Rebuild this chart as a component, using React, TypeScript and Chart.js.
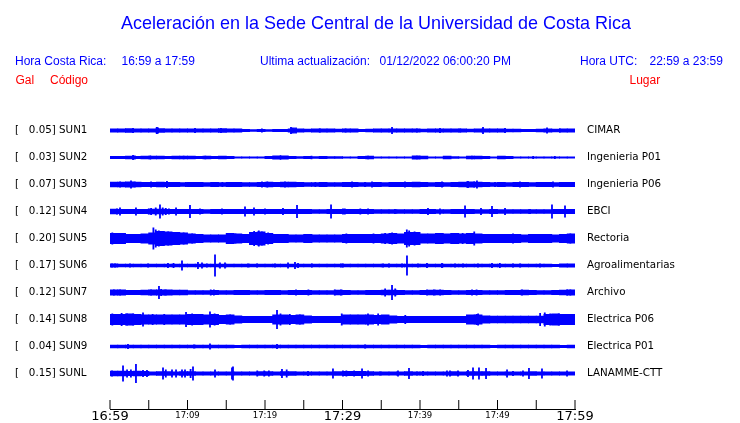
import React, { useEffect, useRef } from 'react';
import { Chart, registerables } from 'chart.js';

Chart.register(...registerables);

// ---------- data ----------
const stationCodes = ['SUN1', 'SUN2', 'SUN3', 'SUN4', 'SUN5', 'SUN6', 'SUN7', 'SUN8', 'SUN9', 'SUNL'];
const stationGal = ['0.05', '0.03', '0.07', '0.12', '0.20', '0.17', '0.12', '0.14', '0.04', '0.15'];
const stationPlaces = ['CIMAR', 'Ingenieria P01', 'Ingenieria P06', 'EBCI', 'Rectoria', 'Agroalimentarias', 'Archivo', 'Electrica P06', 'Electrica P01', 'LANAMME-CTT'];

// minutes after 16:59 where the time axis has ticks, and their labels
const timeTicks = [0, 5, 10, 15, 20, 25, 30, 35, 40, 45, 50, 55, 60];
const timeLabels = ['16:59', '', '17:09', '', '17:19', '', '17:29', '', '17:39', '', '17:49', '', '17:59'];
const majorTimeTicks = [0, 30, 60];

// per-minute background amplitude of each trace (1 unit = 1/27 of trace spacing)
const sun1Core = [1.5, 1.5, 1.7, 1.5, 1.5, 1.5, 1.8, 1.5, 1.5, 1.5, 1.5, 1.5, 1.5, 1.5, 1.7, 1.5, 1.5, 1.0, 0.8, 1.0, 0.8, 1.0, 1.0, 1.5, 1.5, 1.3, 1.5, 1.5, 1.5, 1.3, 1.5, 1.5, 1.0, 1.2, 1.5, 1.5, 1.5, 1.5, 1.5, 1.5, 1.3, 1.5, 1.5, 1.5, 1.5, 1.5, 1.3, 1.5, 1.5, 1.5, 1.5, 1.3, 1.3, 1.0, 1.0, 1.2, 1.5, 1.3, 1.5, 1.5];
const sun2Core = [1.0, 1.0, 1.2, 1.0, 1.2, 1.2, 1.2, 1.0, 1.2, 1.2, 1.2, 1.0, 1.2, 1.0, 1.2, 1.0, 0.6, 0.5, 0.5, 0.6, 0.9, 1.5, 1.5, 0.9, 0.8, 0.9, 0.7, 0.9, 0.8, 0.7, 0.5, 0.6, 0.9, 1.3, 0.6, 0.6, 0.5, 0.6, 0.6, 1.4, 1.2, 0.5, 0.6, 1.2, 0.8, 0.5, 1.3, 1.3, 0.9, 0.5, 1.2, 1.0, 0.5, 0.5, 0.6, 0.5, 0.6, 0.5, 0.5, 0.5];
const sun3Core = [2.2, 2.2, 2.4, 2.2, 2.0, 2.0, 2.2, 2.0, 2.0, 1.8, 2.0, 2.0, 1.8, 2.0, 1.8, 2.0, 2.0, 1.8, 1.8, 2.0, 2.2, 2.0, 2.2, 2.2, 2.0, 1.8, 1.8, 2.0, 1.8, 1.8, 2.0, 2.0, 1.8, 1.8, 2.0, 1.8, 2.0, 2.0, 2.0, 2.2, 2.0, 1.8, 2.0, 1.8, 2.0, 2.2, 2.4, 2.2, 2.0, 1.8, 2.0, 1.8, 2.0, 2.0, 1.8, 2.0, 2.0, 1.8, 2.0, 2.0];
const sun4Core = [2.2, 2.0, 2.0, 2.0, 2.0, 2.2, 2.2, 2.0, 2.0, 2.0, 2.0, 2.0, 1.8, 2.0, 2.0, 2.0, 2.0, 2.0, 2.0, 2.0, 2.0, 2.0, 2.0, 2.0, 2.0, 2.0, 1.8, 1.8, 2.0, 2.0, 2.0, 2.0, 2.0, 2.0, 1.8, 1.8, 1.8, 1.8, 1.8, 1.8, 2.0, 2.0, 1.8, 1.8, 2.0, 2.0, 2.0, 1.8, 1.8, 2.0, 1.8, 1.8, 1.8, 1.8, 1.8, 1.8, 1.8, 2.0, 2.0, 2.0];
const sun5Core = [5, 5, 4, 4, 4.5, 5.5, 7, 6.5, 6, 5.5, 4.5, 4, 3.5, 3.5, 3.5, 5, 4.5, 4, 6, 6.5, 5, 4, 4, 3.5, 3.5, 4, 3.5, 3.5, 3.5, 3.5, 4, 4, 4, 4, 4, 4.5, 5, 4.5, 6, 6, 4.5, 4.5, 5, 4.5, 5, 4.5, 5, 4.5, 4, 4, 4, 4, 4, 3.5, 4, 4, 4, 3.5, 4, 4.5];
const sun6Core = [1.5, 1.2, 1.2, 1.2, 1.2, 1.2, 1.2, 1.2, 1.2, 1.2, 1.2, 1.2, 1.2, 1.2, 1.2, 1.2, 1.2, 1.2, 1.2, 1.2, 1.2, 1.2, 1.2, 1.2, 1.2, 1.2, 1.2, 1.2, 1.2, 1.2, 1.2, 1.2, 1.2, 1.2, 1.2, 1.2, 1.2, 1.2, 1.2, 1.2, 1.2, 1.2, 1.2, 1.2, 1.2, 1.2, 1.2, 1.2, 1.2, 1.2, 1.2, 1.2, 1.2, 1.2, 1.2, 1.2, 1.2, 1.0, 1.5, 1.5];
const sun7Core = [2.5, 2.5, 2.0, 2.0, 2.2, 2.5, 2.5, 2.5, 2.2, 2.2, 1.8, 1.8, 1.8, 2.0, 1.8, 1.8, 2.0, 2.0, 1.8, 1.8, 2.0, 2.0, 1.8, 2.0, 2.0, 2.0, 1.8, 1.8, 1.8, 2.2, 2.0, 1.8, 1.8, 2.0, 2.0, 2.2, 2.2, 2.0, 1.8, 1.8, 2.0, 2.2, 2.2, 2.0, 1.8, 1.8, 2.0, 2.0, 1.8, 1.8, 1.8, 2.0, 2.0, 2.2, 2.0, 1.8, 1.8, 2.0, 2.2, 2.5];
const sun8Core = [5, 5, 5.5, 5, 4.5, 4.5, 4.5, 4.5, 4.5, 4.5, 5, 5, 4.5, 5, 4, 4.5, 3.5, 3, 3, 3, 3, 4.5, 4.5, 4, 4.5, 3.5, 3, 3, 3, 3, 4.5, 4.5, 4.5, 4.5, 4, 4.5, 3.5, 3, 3, 3, 3, 3, 3, 3, 3, 3, 4.5, 4.5, 3.5, 3.2, 3.2, 3.2, 3.2, 3.2, 3.2, 3.2, 5, 5.5, 5, 5];
const sun9Core = [1.2, 1.2, 1.2, 1.2, 1.2, 1.2, 1.2, 1.2, 1.2, 1.2, 1.2, 1.2, 1.2, 1.2, 1.2, 1.2, 1.0, 1.2, 1.2, 1.2, 1.2, 1.2, 1.2, 1.2, 1.2, 1.2, 1.2, 1.2, 1.2, 1.2, 1.2, 1.2, 1.2, 1.2, 1.2, 1.2, 1.2, 1.2, 1.2, 1.2, 1.0, 1.2, 1.2, 1.2, 1.2, 1.2, 1.2, 1.2, 1.2, 1.0, 1.2, 1.2, 1.2, 1.2, 1.2, 1.2, 1.2, 1.2, 1.0, 1.2];
const sunLCore = [2.2, 2.2, 2.0, 2.2, 2.0, 1.6, 1.8, 1.8, 1.6, 1.8, 1.8, 1.6, 1.6, 1.6, 1.6, 1.6, 1.6, 1.6, 1.6, 1.8, 1.8, 1.6, 1.8, 1.8, 1.6, 1.6, 1.6, 1.6, 1.6, 1.8, 2.0, 2.0, 2.0, 1.8, 1.6, 1.6, 1.6, 1.6, 1.8, 1.6, 1.6, 1.6, 1.6, 1.6, 1.8, 1.6, 1.8, 1.8, 1.8, 1.6, 1.6, 1.6, 1.6, 1.6, 1.8, 1.6, 1.6, 1.6, 1.6, 1.6];

// peaks: [minute after 16:59, amplitude]
const sun1Spikes = [[2.97, 2.5], [6.0, 3], [6.06, 3.5], [6.2, 3], [10.97, 2.5], [14.32, 2.5], [19.6, 2], [23.35, 3.5], [23.5, 3], [23.74, 3], [24.0, 3], [27.1, 2], [30.4, 2], [36.39, 3.5], [39.6, 2], [42.58, 2.5], [45.2, 2], [48.13, 3.5], [50.97, 2.5], [56.39, 3], [58.06, 2]];
const sun2Spikes = [[2.97, 2.5], [3.2, 2], [5.2, 2], [9.5, 1.8], [12.3, 1.8], [22.0, 2], [26.0, 1.8], [33.3, 1.8], [39.6, 1.8], [46.7, 1.8], [54.6, 1.6], [57.4, 1.6]];
const sun3Spikes = [[1.3, 3], [2.71, 4], [3.2, 3], [5.3, 3], [7.35, 3.5], [9.8, 2.5], [11.5, 2.5], [14.5, 2.5], [19.61, 3], [20.3, 3], [22.19, 2.5], [22.58, 3], [23.1, 2.5], [26.5, 2.5], [31.23, 3], [32.9, 2.5], [33.81, 3], [37.8, 2.5], [38.06, 3], [38.5, 2.5], [42.84, 3], [44.5, 2.5], [46.19, 3.5], [47.0, 3], [47.35, 4], [49.68, 2.5], [52.9, 3], [57.16, 3], [58.7, 2.5]];
const sun4Spikes = [[0.9, 3], [1.29, 4], [3.35, 4], [5.0, 3], [5.3, 3.5], [5.9, 4], [6.45, 7], [6.8, 4], [7.2, 3.5], [7.6, 3], [8.52, 4], [10.32, 6.5], [11.61, 3], [14.45, 3], [17.42, 5], [18.58, 4], [20.0, 3], [22.32, 3.5], [24.13, 6.5], [28.52, 7], [30.06, 3], [30.3, 3], [32.3, 3], [33.3, 3], [36.77, 2.5], [41.03, 3.5], [42.58, 3], [45.81, 6], [47.87, 3.5], [49.29, 5.5], [50.97, 3.5], [54.19, 2.5], [57.03, 7], [58.71, 6], [59.61, 2.5]];
const sun5Spikes = [[0.3, 6], [1.0, 5.5], [5.6, 11], [5.9, 9], [6.3, 8], [6.9, 7.5], [7.5, 7], [8.4, 6.5], [9.5, 6], [10.6, 5], [15.6, 5.5], [16.2, 5], [18.6, 7.5], [19.2, 8], [19.6, 7], [20.4, 6], [26.0, 4.5], [30.5, 5], [34.0, 5], [35.5, 5.5], [36.4, 6], [38.3, 9], [38.6, 8], [39.3, 7], [42.6, 5.5], [44.0, 5], [45.5, 5.5], [47.0, 7], [52.0, 5], [55.5, 4.5], [59.4, 5]];
const sun6Spikes = [[0.26, 2], [0.65, 2], [2.58, 2], [4.9, 2], [7.48, 2.5], [8.2, 2.5], [9.29, 5], [11.35, 3.5], [11.87, 3], [12.5, 2], [13.55, 11], [14.19, 3], [14.84, 3], [17.81, 2], [18.97, 2], [21.29, 2], [22.97, 3], [23.87, 3.5], [24.26, 2.5], [26.06, 2], [29.8, 2], [30.06, 2], [35.23, 2], [36.0, 2], [37.68, 2], [38.32, 10], [39.74, 2], [40.9, 2.5], [42.84, 2.5], [44.52, 2], [45.55, 2], [47.48, 2], [49.29, 2.5], [50.3, 2.5], [52.0, 2], [52.9, 2], [55.48, 2]];
const sun7Spikes = [[0.5, 3], [1.3, 3], [2.3, 2.5], [5.3, 3], [6.32, 6.5], [6.6, 3.5], [7.2, 3], [8.5, 2.5], [9.5, 2.5], [13.0, 3], [13.4, 3], [16.3, 2.5], [17.5, 2.5], [20.6, 2.5], [21.8, 2.5], [24.0, 3], [25.6, 3], [29.0, 3], [29.8, 3], [35.5, 4], [36.39, 7.5], [36.8, 4], [40.9, 3], [41.8, 3], [42.6, 3], [46.71, 3], [47.3, 3], [53.16, 3], [58.97, 3], [59.4, 3]];
const sun8Spikes = [[0.3, 6], [1.5, 6.5], [2.2, 6], [3.0, 6], [4.26, 7], [5.5, 5.5], [7.0, 5.5], [9.81, 7.5], [10.6, 6], [11.0, 5.5], [12.9, 8], [13.5, 6], [15.5, 5], [21.55, 9.5], [22.0, 6], [23.2, 5.5], [24.5, 5], [29.9, 6], [33.29, 6], [34.6, 6], [38.1, 4.5], [47.3, 5.5], [47.5, 6], [55.5, 6.5], [56.1, 7], [56.8, 6], [57.9, 6], [59.0, 5.5]];
const sun9Spikes = [[2.32, 2.5], [10.84, 2], [12.9, 3], [21.55, 2.5], [28.65, 1.5], [32.9, 2], [37.0, 1.5], [40.0, 1.5], [45.6, 1.5], [50.0, 1.5], [55.0, 1.5]];
const sunLSpikes = [[0.26, 3], [1.68, 8], [2.2, 4], [2.7, 4], [3.35, 9.5], [4.26, 3.5], [4.77, 3.5], [6.84, 6], [7.2, 4], [8.0, 4], [8.52, 4], [9.29, 4], [9.68, 4], [10.4, 4.5], [10.71, 7], [13.55, 4], [15.74, 6], [15.87, 7], [19.0, 3], [19.9, 3], [20.5, 3], [22.19, 4.5], [22.8, 4], [25.55, 2.5], [28.77, 5], [30.06, 3], [30.5, 3], [31.5, 3], [32.52, 5], [33.3, 3], [34.84, 2], [37.16, 3], [38.58, 5.5], [39.61, 2], [40.39, 2.5], [43.48, 3], [43.87, 3], [44.9, 3], [46.19, 3.5], [46.84, 6], [47.61, 6], [48.52, 5.5], [51.23, 4], [52.0, 2.5], [53.29, 3], [54.06, 5.5], [55.74, 5], [58.97, 3]];

const coreSeries = [sun1Core, sun2Core, sun3Core, sun4Core, sun5Core, sun6Core, sun7Core, sun8Core, sun9Core, sunLCore];
const spikeSeries = [sun1Spikes, sun2Spikes, sun3Spikes, sun4Spikes, sun5Spikes, sun6Spikes, sun7Spikes, sun8Spikes, sun9Spikes, sunLSpikes];

// ---------- styling constants ----------
const BLUE = '#0000ff';
const RED = '#ff0000';
const AMP_UNITS_PER_TRACE = 27;
const PEN_FRINGE = 0.5; // extra half-thickness of the plotting pen
const Y_MIN = -1;
const Y_MAX = 10.3148;
const TICK_LEN = 9 / 27;

export default function App() {
  const canvasRef = useRef<HTMLCanvasElement>(null);

  useEffect(() => {
    const datasets: any[] = [];
    coreSeries.forEach((core, i) => {
      datasets.push({
        type: 'bar',
        data: core.map((a, k) => {
          const h = (a + PEN_FRINGE) / AMP_UNITS_PER_TRACE;
          return { x: k + 0.5, y: [i - h, i + h] };
        }),
        backgroundColor: BLUE,
        borderWidth: 0,
        grouped: false,
        categoryPercentage: 1,
        barPercentage: 1.12,
        xAxisID: 'x',
        yAxisID: 'y',
      });
      datasets.push({
        type: 'line',
        data: spikeSeries[i].flatMap(([m, a]) => [
          { x: m, y: i - a / AMP_UNITS_PER_TRACE },
          { x: m, y: i + a / AMP_UNITS_PER_TRACE },
          { x: m, y: null },
        ]),
        borderColor: BLUE,
        borderWidth: 1.8,
        borderCapStyle: 'butt',
        pointRadius: 0,
        spanGaps: false,
        fill: false,
        tension: 0,
        xAxisID: 'x',
        yAxisID: 'y',
      });
    });
    datasets.push({
      type: 'line',
      data: timeTicks.flatMap((t) => [
        { x: t, y: Y_MAX },
        { x: t, y: Y_MAX - TICK_LEN },
        { x: t, y: null },
      ]),
      borderColor: '#000000',
      borderWidth: 1,
      pointRadius: 0,
      spanGaps: false,
      fill: false,
      clip: false,
      xAxisID: 'x',
      yAxisID: 'y',
    });

    const chart = new Chart(canvasRef.current!, {
      type: 'line',
      data: { datasets },
      options: {
        responsive: false,
        maintainAspectRatio: false,
        animation: false,
        devicePixelRatio: 1,
        events: [],
        layout: { padding: { left: 15, top: 103.5, right: 0, bottom: 0 } },
        plugins: {
          legend: { display: false },
          tooltip: { enabled: false },
          title: { display: false },
        },
        scales: {
          x: {
            type: 'linear',
            position: 'bottom',
            min: 0,
            max: 60,
            offset: false,
            grid: { display: false, drawTicks: false },
            border: { display: true, color: '#000000', width: 1 },
            afterBuildTicks: (axis: any) => {
              axis.ticks = timeTicks.map((v) => ({ value: v }));
            },
            afterFit: (axis: any) => {
              axis.height = 14;
            },
            ticks: {
              autoSkip: false,
              maxRotation: 0,
              padding: 0,
              color: '#000000',
              callback: (_v: any, idx: number) => timeLabels[idx],
              font: (ctx: any) => {
                const v = ctx.tick ? ctx.tick.value : 0;
                const major = majorTimeTicks.includes(v);
                return { family: 'DejaVu Sans', size: major ? 13 : 8.5, lineHeight: major ? 1.1 : 1.5 };
              },
            },
          },
          y: {
            type: 'linear',
            min: Y_MIN,
            max: Y_MAX,
            reverse: true,
            position: 'left',
            grid: { display: false, drawTicks: false },
            border: { display: false },
            afterBuildTicks: (axis: any) => {
              axis.ticks = stationCodes.map((_c, i) => ({ value: i }));
            },
            afterFit: (axis: any) => {
              axis.width = 95;
            },
            ticks: {
              autoSkip: false,
              padding: 0,
              crossAlign: 'far',
              color: '#000000',
              font: { family: 'DejaVu Sans', size: 10.3 },
              callback: (v: any) => `[   ${stationGal[v]}] ${stationCodes[v]}`,
            },
          },
          y2: {
            type: 'linear',
            min: Y_MIN,
            max: Y_MAX,
            reverse: true,
            position: 'right',
            grid: { display: false, drawTicks: true, tickLength: 12 },
            border: { display: false },
            afterBuildTicks: (axis: any) => {
              axis.ticks = stationPlaces.map((_c, i) => ({ value: i }));
            },
            afterFit: (axis: any) => {
              axis.width = 165;
            },
            ticks: {
              autoSkip: false,
              padding: 0,
              color: '#000000',
              font: { family: 'DejaVu Sans', size: 10.3 },
              callback: (v: any) => stationPlaces[v],
            },
          },
        },
      } as any,
    });
    return () => chart.destroy();
  }, []);

  const txt = (left: number, top: number, color: string, s: string) => (
    <div
      style={{
        position: 'absolute',
        left,
        top,
        fontFamily: 'Liberation Sans',
        fontSize: 12,
        lineHeight: '12px',
        color,
        whiteSpace: 'pre',
      }}
    >
      {s}
    </div>
  );

  return (
    <div style={{ position: 'absolute', left: 0, top: 0, width: 740, height: 423, background: '#ffffff', overflow: 'hidden' }}>
      <canvas ref={canvasRef} width={740} height={423} style={{ position: 'absolute', left: 0, top: 0 }} />
      <div
        style={{
          position: 'absolute',
          left: 0,
          top: 13,
          width: 752,
          textAlign: 'center',
          fontFamily: 'Liberation Sans',
          fontSize: 19,
          lineHeight: '19px',
          color: BLUE,
          whiteSpace: 'pre',
          transform: 'scaleX(0.947)',
        }}
      >
        Aceleración en la Sede Central de la Universidad de Costa Rica
      </div>
      {txt(15, 54.8, BLUE, 'Hora Costa Rica:')}
      {txt(121.5, 54.8, BLUE, '16:59 a 17:59')}
      {txt(260, 54.8, BLUE, 'Ultima actualización:')}
      {txt(379.5, 54.8, BLUE, '01/12/2022 06:00:20 PM')}
      {txt(580, 54.8, BLUE, 'Hora UTC:')}
      {txt(649.5, 54.8, BLUE, '22:59 a 23:59')}
      {txt(15.5, 74.1, RED, 'Gal')}
      {txt(50, 74.1, RED, 'Código')}
      {txt(629.5, 74.1, RED, 'Lugar')}
    </div>
  );
}
